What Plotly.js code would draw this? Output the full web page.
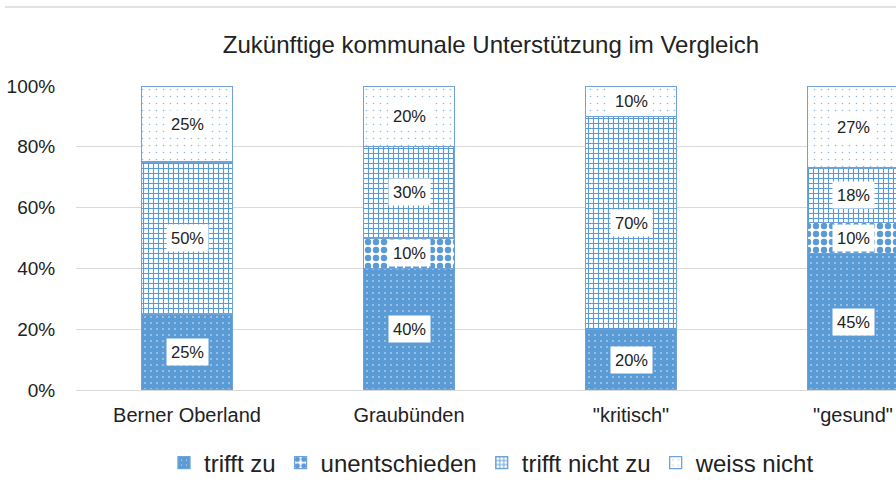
<!DOCTYPE html>
<html>
<head>
<meta charset="utf-8">
<script src="https://cdn.plot.ly/plotly-3.0.1.min.js"></script>
<style>
html,body{margin:0;padding:0;overflow:hidden;background:#fff;width:896px;height:493px;}
#chart{width:982px;height:493px;}
</style>
</head>
<body>
<div id="chart"></div>
<script>
const categories = ['Berner Oberland', 'Graubünden', '"kritisch"', '"gesund"'];
const seriesNames = ['trifft zu', 'unentschieden', 'trifft nicht zu', 'weiss nicht'];
const triffZu = [25, 40, 20, 45];
const unentschieden = [0, 10, 0, 10];
const triffNichtZu = [50, 30, 70, 18];
const weissNicht = [25, 20, 10, 27];
const yTickVals = [0, 20, 40, 60, 80, 100];
const yTickText = ['0%', '20%', '40%', '60%', '80%', '100%'];

const seriesValues = [triffZu, unentschieden, triffNichtZu, weissNicht];
const blue = '#5B9BD5';
const patterns = [
  {shape: '.', bgcolor: blue, fgcolor: '#ffffff', size: 6, solidity: 0.04},
  {shape: '.', bgcolor: '#ffffff', fgcolor: blue, size: 8, solidity: 0.5},
  {shape: '+', bgcolor: '#ffffff', fgcolor: blue, size: 5, solidity: 0.4},
  {shape: '.', bgcolor: '#ffffff', fgcolor: '#8DB9E4', size: 7, solidity: 0.04}
];

const traces = seriesValues.map((vals, i) => ({
  type: 'bar',
  name: seriesNames[i],
  x: categories,
  y: vals,
  width: 0.41,
  marker: {
    color: patterns[i].bgcolor,
    pattern: Object.assign({fillmode: 'replace'}, patterns[i]),
    line: {color: '#6FA2D8', width: 1.3}
  },
  hoverinfo: 'x+y+name'
}));

const annotations = [];
categories.forEach((c, ci) => {
  let base = 0;
  seriesValues.forEach(vals => {
    const v = vals[ci];
    if (v > 0) {
      annotations.push({
        x: c, y: base + v / 2, xref: 'x', yref: 'y',
        text: v + '%', showarrow: false,
        bgcolor: '#ffffff', borderpad: 4,
        font: {family: 'Liberation Sans, Arial, sans-serif', size: 16.5, color: '#222222'}
      });
    }
    base += v;
  });
});

const layout = {
  width: 982, height: 493,
  margin: {l: 76, r: 18, t: 86, b: 103},
  barmode: 'stack',
  paper_bgcolor: '#ffffff',
  plot_bgcolor: '#ffffff',
  font: {family: 'Liberation Sans, Arial, sans-serif', color: '#222222'},
  title: {
    text: 'Zukünftige kommunale Unterstützung im Vergleich',
    x: 0.5, xref: 'container', xanchor: 'center',
    y: 1 - 45 / 493, yref: 'container', yanchor: 'middle',
    font: {size: 24, color: '#222222', family: 'Liberation Sans, Arial, sans-serif'}
  },
  xaxis: {
    type: 'category',
    range: [-0.5, 3.5],
    showgrid: false,
    showline: false,
    zeroline: false,
    ticks: 'outside', ticklen: 7, tickcolor: 'rgba(0,0,0,0)',
    tickfont: {size: 20, color: '#222222'},
    fixedrange: true
  },
  yaxis: {
    range: [0, 100],
    tickvals: yTickVals,
    ticktext: yTickText,
    showgrid: true,
    gridcolor: '#d9d9d9', gridwidth: 1,
    zeroline: true, zerolinecolor: '#d9d9d9', zerolinewidth: 1,
    showline: false,
    ticks: 'outside', ticklen: 16, tickcolor: 'rgba(0,0,0,0)',
    tickfont: {size: 19, color: '#222222'},
    fixedrange: true
  },
  legend: {
    orientation: 'h',
    x: 492 / 982, xref: 'container', xanchor: 'center',
    y: (493 - 463) / 493, yref: 'container', yanchor: 'middle',
    font: {size: 24, color: '#222222'},
    traceorder: 'normal'
  },
  annotations: annotations,
  shapes: [{
    type: 'line', xref: 'paper', yref: 'paper',
    x0: (5 - 76) / 888, x1: 1.05, y0: (390 - 7) / 304, y1: (390 - 7) / 304,
    line: {color: '#d9d9d9', width: 1.5}
  }],
  showlegend: true
};

Plotly.newPlot('chart', traces, layout, {displayModeBar: false, staticPlot: true});
</script>
</body>
</html>
